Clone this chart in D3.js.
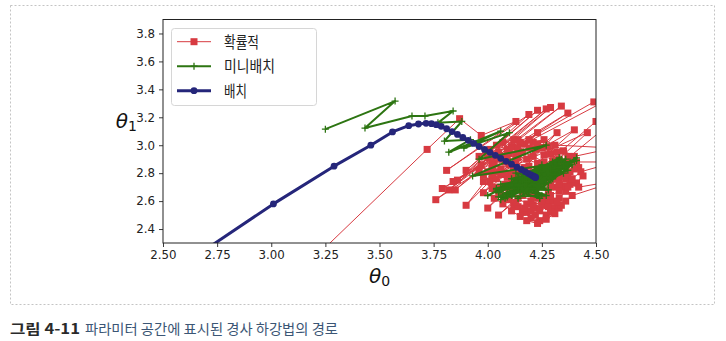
<!DOCTYPE html>
<html>
<head>
<meta charset="utf-8">
<script src="https://cdn.jsdelivr.net/npm/d3@7"></script>
<style>
  body { margin: 0; background: #fff; }
  svg { display: block; }
</style>
</head>
<body>
<svg id="chart" width="726" height="341"></svg>
<script>
// Axis ticks
const xTicks = [2.50, 2.75, 3.00, 3.25, 3.50, 3.75, 4.00, 4.25, 4.50];
const yTicks = [2.4, 2.6, 2.8, 3.0, 3.2, 3.4, 3.6, 3.8];
const seriesNames = ["확률적", "미니배치", "배치"];

// Stochastic gradient descent path (theta0, theta1)
const sgdPath = [
  [2.95,1.82],[3.72,2.97],[3.87,3.19],[3.97,3.07],[4.13,3.17],[3.81,2.82],[4.19,3.22],[3.90,2.82],
  [4.23,3.25],[3.86,2.75],[4.27,3.26],[3.82,2.68],[4.29,3.27],[3.85,2.68],[4.34,3.28],[3.76,2.61],
  [4.37,3.23],[3.79,2.69],[4.49,3.31],[4.62,3.38],[3.84,2.74],[4.14,3.04],[3.90,2.57],[4.23,3.09],
  [3.98,2.66],[4.32,3.09],[4.00,2.55],[4.40,3.11],[4.02,2.78],[4.46,3.09],[4.05,2.50],[4.60,3.20],
  [4.50,3.17],[4.08,2.62],
  [4.12,2.57],[4.16,2.52],[4.20,2.48],[4.24,2.46],[4.27,2.50],[4.30,2.55],[4.26,2.58],[4.22,2.55],
  [4.18,2.58],[4.14,2.62],[4.10,2.66],[4.05,2.70],[4.01,2.74],[3.98,2.79],[4.02,2.83],[4.06,2.79],
  [4.11,2.76],[4.15,2.71],[4.19,2.66],[4.23,2.62],[4.28,2.60],[4.33,2.62],[4.36,2.67],[4.32,2.70],
  [4.28,2.67],[4.24,2.70],[4.20,2.74],[4.16,2.79],[4.12,2.84],[4.08,2.88],[4.03,2.92],[3.99,2.96],
  [4.04,3.00],[4.09,2.97],[4.13,2.93],[4.18,2.90],[4.23,2.87],[4.27,2.83],[4.31,2.79],[4.36,2.76],
  [4.41,2.73],[4.44,2.78],[4.42,2.84],[4.38,2.81],[4.34,2.85],[4.30,2.89],[4.26,2.93],[4.22,2.97],
  [4.17,3.01],[4.12,3.04],[4.07,3.02],[4.58,2.98],[4.40,2.92],[4.35,2.96],[4.31,3.00],[4.26,3.04],
  [4.21,3.02],[4.25,2.98],[4.29,2.94],[4.33,2.90],[4.37,2.87],[4.40,2.83],[4.37,2.79],[4.33,2.74],
  [4.29,2.73],[4.25,2.76],[4.21,2.80],[4.17,2.84],[4.13,2.88],[4.09,2.92],[4.05,2.95],[4.00,2.91],
  [3.97,2.86],[4.00,2.81],[4.04,2.76],[4.08,2.72],[4.12,2.68],[4.16,2.64],[4.20,2.60],[4.25,2.57],
  [4.29,2.52],[4.33,2.55],[4.36,2.60],[4.39,2.64],[4.61,2.75],[4.42,2.70],[4.38,2.72],[4.34,2.78],
  [4.30,2.84],[4.26,2.88],[4.21,2.92],[4.16,2.95],[4.11,2.99],[4.15,3.02],[4.19,2.98],[4.14,2.91],
  [4.10,2.86],[4.06,2.83],[4.03,2.87],[4.07,2.92],[4.01,2.97],[3.96,2.92],[3.96,2.82],[3.98,2.74],
  [4.02,2.69],[4.06,2.65],[4.10,2.61],[4.14,2.56],[4.18,2.52],[4.22,2.50],[4.18,2.46],[4.23,2.44],
  [4.27,2.47],[4.31,2.51],[4.34,2.57],[4.30,2.60],[4.26,2.63],[4.22,2.67],[4.18,2.70],[4.14,2.74],
  [4.10,2.79],[4.14,2.82],[4.19,2.85],[4.24,2.82],[4.28,2.78],[4.32,2.76],[4.35,2.71],[4.39,2.76],
  [4.43,2.81],[4.59,2.88],[4.41,2.88],[4.37,2.92],[4.32,2.95],[4.28,2.99],[4.23,3.01],[4.19,3.04],
  [4.14,2.98],[4.10,2.94],[4.06,2.90],[4.02,2.86],[4.05,2.81],[4.09,2.77],[4.13,2.73],[4.17,2.68],
  [4.21,2.64],[4.25,2.60],[4.21,2.57],[4.17,2.55],[4.13,2.59],[4.09,2.63],[4.05,2.67],[4.03,2.62],
  [4.07,2.58],[4.11,2.53],[4.15,2.49],[4.20,2.53],[4.24,2.53],[4.28,2.56],[4.32,2.59],[4.29,2.64],
  [4.33,2.67],[4.37,2.70],[4.33,2.72],[4.29,2.70],[4.25,2.72],[4.21,2.71],[4.17,2.74],[4.13,2.77],
  [4.08,2.80],[4.12,2.82],[4.16,2.81],[4.20,2.78],[4.24,2.76],[4.27,2.74],[4.23,2.73],[4.20,2.75],
  [4.22,2.77]
];

// Mini-batch gradient descent path
const mgdPath = [
  [3.25,3.115],[3.572,3.316],[3.433,3.123],[3.65,3.209],[3.71,3.209],[3.84,3.245],[3.77,3.16],
  [3.88,3.17],[3.80,3.03],[3.92,3.04],[3.82,2.95],[4.06,3.10],[3.89,2.98],[4.10,3.09],[3.96,2.90],
  [4.27,3.00],[3.93,2.78],[4.41,2.89],[4.04,2.68],[4.30,2.88],[4.06,2.61],[4.34,2.90],[4.00,2.64],
  [4.25,2.86],
  [4.05,2.66],[4.30,2.85],[4.08,2.62],[4.38,2.88],[4.12,2.70],[4.25,2.64],[4.06,2.72],[4.35,2.80],
  [4.15,2.66],[4.41,2.91],[4.18,2.72],[4.09,2.63],[4.32,2.86],[4.14,2.75],[4.28,2.68],[4.04,2.69],
  [4.36,2.84],[4.20,2.70],[4.11,2.64],[4.33,2.91],[4.17,2.78],[4.26,2.72],[4.07,2.65],[4.39,2.86],
  [4.22,2.66],[4.13,2.80],[4.30,2.76],[4.10,2.67],[4.34,2.88],[4.19,2.74],[4.24,2.62],[4.08,2.70],
  [4.37,2.82],[4.16,2.69],[4.29,2.83],[4.12,2.73],[4.27,2.64],[4.05,2.63],[4.31,2.80],[4.18,2.77],
  [4.40,2.89],[4.21,2.69],[4.14,2.62],[4.35,2.86],[4.11,2.76],[4.26,2.70],[4.09,2.66],[4.32,2.82],
  [4.17,2.72],[4.23,2.79],[4.13,2.67],[4.36,2.90],[4.20,2.75],[4.28,2.73],[4.15,2.71],[4.33,2.84],
  [4.12,2.69],[4.25,2.81],[4.19,2.66],[4.30,2.79],[4.16,2.75],[4.27,2.77],[4.21,2.72],[4.24,2.80],
  [4.18,2.74],[4.23,2.76],[4.20,2.78],[4.22,2.77]
];

// Batch gradient descent path
const bgdPath = [
  [2.20,1.62],[2.55,2.10],[3.01,2.58],[3.29,2.85],[3.46,3.00],[3.56,3.095],[3.635,3.14],[3.68,3.152],
  [3.715,3.157],[3.74,3.154],[3.762,3.147],[3.785,3.135],[3.81,3.118],[3.835,3.098],[3.86,3.077],
  [3.885,3.056],[3.91,3.035],[3.935,3.013],[3.96,2.991],[3.985,2.970],[4.01,2.949],[4.035,2.928],
  [4.06,2.906],[4.085,2.885],[4.11,2.864],[4.135,2.843],[4.155,2.826],[4.172,2.811],[4.186,2.799],
  [4.197,2.790],[4.205,2.783],[4.211,2.778],[4.215,2.775],[4.218,2.772],[4.220,2.770],[4.221,2.769]
];

const colors = { sgd: "#d73a41", mgd: "#2d7512", bgd: "#25267a" };

const svg = d3.select("#chart");
const plot = { left: 163, right: 596, top: 19.5, bottom: 243 };

// dashed frame around the figure
svg.append("rect")
  .attr("x", 10.5).attr("y", 5.5).attr("width", 704).attr("height", 299)
  .attr("fill", "none").attr("stroke", "#c4c4c4").attr("stroke-width", 1)
  .attr("stroke-dasharray", "2,2");

const x = d3.scaleLinear().domain([2.5, 4.5]).range([plot.left, plot.right]);
const y = d3.scaleLinear().domain([2.3, 3.9]).range([plot.bottom, plot.top]);

svg.append("defs").append("clipPath").attr("id", "plotClip")
  .append("rect")
  .attr("x", plot.left).attr("y", plot.top)
  .attr("width", plot.right - plot.left).attr("height", plot.bottom - plot.top);

const g = svg.append("g").attr("clip-path", "url(#plotClip)");
const line = d3.line().x(d => x(d[0])).y(d => y(d[1]));

// stochastic: thin line with squares
g.append("path").datum(sgdPath).attr("d", line)
  .attr("fill", "none").attr("stroke", colors.sgd).attr("stroke-width", 1)
  .attr("stroke-linejoin", "round");
const sq = 7;
g.append("g").selectAll("rect").data(sgdPath).join("rect")
  .attr("x", d => x(d[0]) - sq / 2).attr("y", d => y(d[1]) - sq / 2)
  .attr("width", sq).attr("height", sq).attr("fill", colors.sgd);

// mini-batch: medium line with plus markers
g.append("path").datum(mgdPath).attr("d", line)
  .attr("fill", "none").attr("stroke", colors.mgd).attr("stroke-width", 2)
  .attr("stroke-linejoin", "round");
g.append("g").selectAll("path").data(mgdPath).join("path")
  .attr("d", d => `M${x(d[0]) - 3.5},${y(d[1])}H${x(d[0]) + 3.5}M${x(d[0])},${y(d[1]) - 3.5}V${y(d[1]) + 3.5}`)
  .attr("stroke", colors.mgd).attr("stroke-width", 1.3).attr("fill", "none");

// batch: thick line with circles
g.append("path").datum(bgdPath).attr("d", line)
  .attr("fill", "none").attr("stroke", colors.bgd).attr("stroke-width", 3)
  .attr("stroke-linejoin", "round");
g.append("g").selectAll("circle").data(bgdPath).join("circle")
  .attr("cx", d => x(d[0])).attr("cy", d => y(d[1])).attr("r", 3.4)
  .attr("fill", colors.bgd);

// axes
const tickFont = "DejaVu Sans, sans-serif";
const xAxis = svg.append("g").attr("transform", `translate(0,${plot.bottom})`)
  .call(d3.axisBottom(x).tickValues(xTicks).tickFormat(d3.format(".2f"))
    .tickSize(4).tickSizeOuter(0).tickPadding(4));
const yAxis = svg.append("g").attr("transform", `translate(${plot.left},0)`)
  .call(d3.axisLeft(y).tickValues(yTicks).tickFormat(d3.format(".1f"))
    .tickSize(4).tickSizeOuter(0).tickPadding(4));
[xAxis, yAxis].forEach(a => {
  a.select(".domain").remove();
  a.selectAll("line").attr("stroke", "#222").attr("stroke-width", 0.9);
  a.selectAll("text").attr("font-family", tickFont).attr("font-size", 11.8).attr("fill", "#222");
});

// spines
svg.append("rect")
  .attr("x", plot.left).attr("y", plot.top)
  .attr("width", plot.right - plot.left).attr("height", plot.bottom - plot.top)
  .attr("fill", "none").attr("stroke", "#222").attr("stroke-width", 1);

// axis labels
const xl = svg.append("text").attr("x", (plot.left + plot.right) / 2).attr("y", 283)
  .attr("text-anchor", "middle").attr("font-family", tickFont).attr("fill", "#111");
xl.append("tspan").attr("font-size", 20).attr("font-style", "italic").text("θ");
xl.append("tspan").attr("font-size", 14).attr("dy", 3).text("0");

const yl = svg.append("text").attr("x", 137).attr("y", 128)
  .attr("text-anchor", "end").attr("font-family", tickFont).attr("fill", "#111");
yl.append("tspan").attr("font-size", 20).attr("font-style", "italic").text("θ");
yl.append("tspan").attr("font-size", 14).attr("dy", 3).text("1");

// legend
const legend = svg.append("g");
legend.append("rect")
  .attr("x", 171.5).attr("y", 28.5).attr("width", 145).attr("height", 77).attr("rx", 3)
  .attr("fill", "#fff").attr("fill-opacity", 0.85).attr("stroke", "#d6d6d6");
const rows = [
  { name: seriesNames[0], color: colors.sgd, w: 1, mark: "square", len: 35 },
  { name: seriesNames[1], color: colors.mgd, w: 2, mark: "plus", len: 51 },
  { name: seriesNames[2], color: colors.bgd, w: 3, mark: "circle", len: 23 }
];
rows.forEach((r, i) => {
  const cy = 41.7 + i * 24.5;
  legend.append("line").attr("x1", 177).attr("x2", 211).attr("y1", cy).attr("y2", cy)
    .attr("stroke", r.color).attr("stroke-width", r.w);
  if (r.mark === "square") {
    legend.append("rect").attr("x", 194 - sq / 2).attr("y", cy - sq / 2)
      .attr("width", sq).attr("height", sq).attr("fill", r.color);
  } else if (r.mark === "plus") {
    legend.append("path").attr("d", `M190.5,${cy}H197.5M194,${cy - 3.5}V${cy + 3.5}`)
      .attr("stroke", r.color).attr("stroke-width", 1.3);
  } else {
    legend.append("circle").attr("cx", 194).attr("cy", cy).attr("r", 3.4).attr("fill", r.color);
  }
  legend.append("text").attr("x", 224).attr("y", cy + 5.8)
    .attr("font-family", "Noto Sans CJK KR, sans-serif").attr("font-size", 15.5)
    .attr("textLength", r.len).attr("lengthAdjust", "spacingAndGlyphs")
    .attr("fill", "#222").text(r.name);
});

// caption
svg.append("text").attr("x", 10).attr("y", 333.5)
  .attr("font-family", "Noto Sans CJK KR, sans-serif").attr("font-size", 14)
  .attr("font-weight", "bold").attr("fill", "#2a2a2a")
  .attr("textLength", 70).attr("lengthAdjust", "spacingAndGlyphs")
  .text("그림 4-11");
svg.append("text").attr("x", 85).attr("y", 333.5)
  .attr("font-family", "Noto Sans CJK KR, sans-serif").attr("font-size", 14)
  .attr("fill", "#3b5675")
  .attr("textLength", 253).attr("lengthAdjust", "spacingAndGlyphs")
  .text("파라미터 공간에 표시된 경사 하강법의 경로");
</script>
</body>
</html>
